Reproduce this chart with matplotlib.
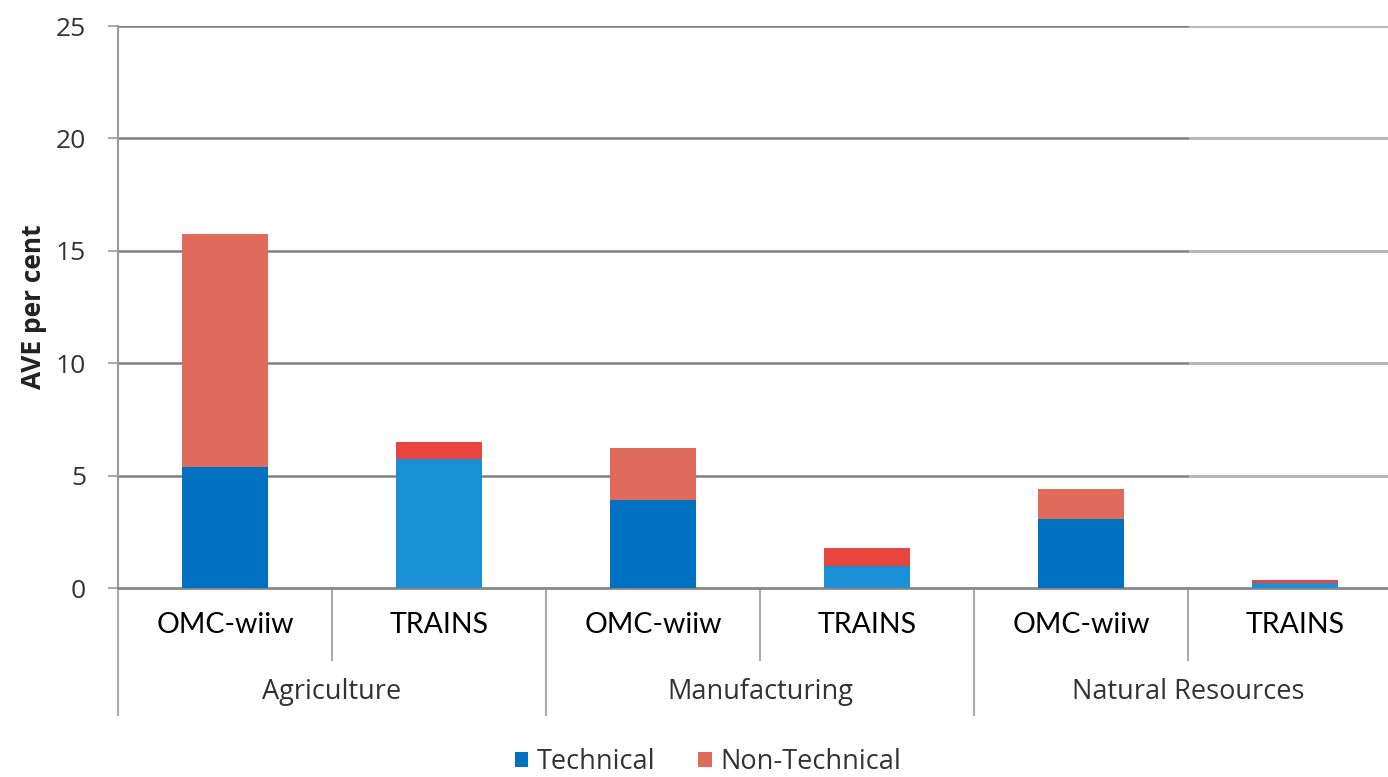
import matplotlib.pyplot as plt
import numpy as np

sectors = ['Agriculture', 'Manufacturing', 'Natural Resources']
sources = ['OMC-wiiw', 'TRAINS', 'OMC-wiiw', 'TRAINS', 'OMC-wiiw', 'TRAINS']
technical = [5.38, 5.74, 3.9, 1.0, 3.07, 0.22]
non_technical = [10.37, 0.76, 2.33, 0.78, 1.33, 0.12]

tech_colors = ['#0070C0', '#1A8FD6', '#0070C0', '#1A8FD6', '#0070C0', '#1A8FD6']
nontech_colors = ['#E06B5C', '#E8453E', '#E06B5C', '#E8453E', '#E06B5C', '#E8453E']

plt.rcParams['font.family'] = ['Open Sans', 'DejaVu Sans']

fig = plt.figure(figsize=(13.88, 7.77), dpi=100)
ax = fig.add_axes([118 / 1388, 189 / 777, 1284 / 1388, 562 / 777])

x = np.arange(len(sources))
ax.bar(x, technical, width=0.4, color=tech_colors, zorder=3, label='Technical')
ax.bar(x, non_technical, width=0.4, bottom=technical, color=nontech_colors,
       zorder=3, label='Non-Technical')

ax.set_xlim(-0.5, 5.5)
ax.set_ylim(0, 25)
ax.set_yticks([0, 5, 10, 15, 20, 25])
ax.tick_params(axis='y', labelsize=19, colors='#999999', labelcolor='#333333',
               length=7, width=1.2, pad=16)
ax.set_xticks([])

# gridlines
for yv in [5, 10, 15, 20, 25]:
    ax.axhline(yv, xmin=0, xmax=0.835, color='#808080', lw=1.8, zorder=1)
    ax.axhline(yv, xmin=0.835, xmax=1, color='#b8b8b8', lw=2.2, zorder=1)

for s in ['top', 'right']:
    ax.spines[s].set_visible(False)
ax.spines['left'].set_color('#999999')
ax.spines['left'].set_linewidth(1.5)
ax.spines['bottom'].set_color('#888888')
ax.spines['bottom'].set_linewidth(2)

ax.set_ylabel('AVE per cent', fontsize=19, fontweight='bold', labelpad=6,
              color='#222222')

# category labels below the axis
trans = ax.get_xaxis_transform()
for i, lab in enumerate(sources):
    ax.text(i, -0.066, lab, transform=trans, ha='center', va='center',
            fontsize=20.5, family=['Lato', 'DejaVu Sans'], color='black')
for k, sec in enumerate(sectors):
    ax.text(2 * k + 0.5, -0.185, sec, transform=trans, ha='center', va='center',
            fontsize=19.5, color='#333333')

# separators
for i in range(7):
    xs = i - 0.5
    depth = -0.226 if i % 2 == 0 else -0.128
    ax.plot([xs, xs], [0, depth], transform=trans, color='#aaaaaa', lw=1.5,
            clip_on=False)

fig.legend(loc='center', bbox_to_anchor=(0.51, 0.019), ncol=2, frameon=False,
           fontsize=19.5, handlelength=0.5, handleheight=0.5, handletextpad=0.3,
           columnspacing=1.6, labelcolor='#333333')

fig.savefig('out.png', dpi=100)
